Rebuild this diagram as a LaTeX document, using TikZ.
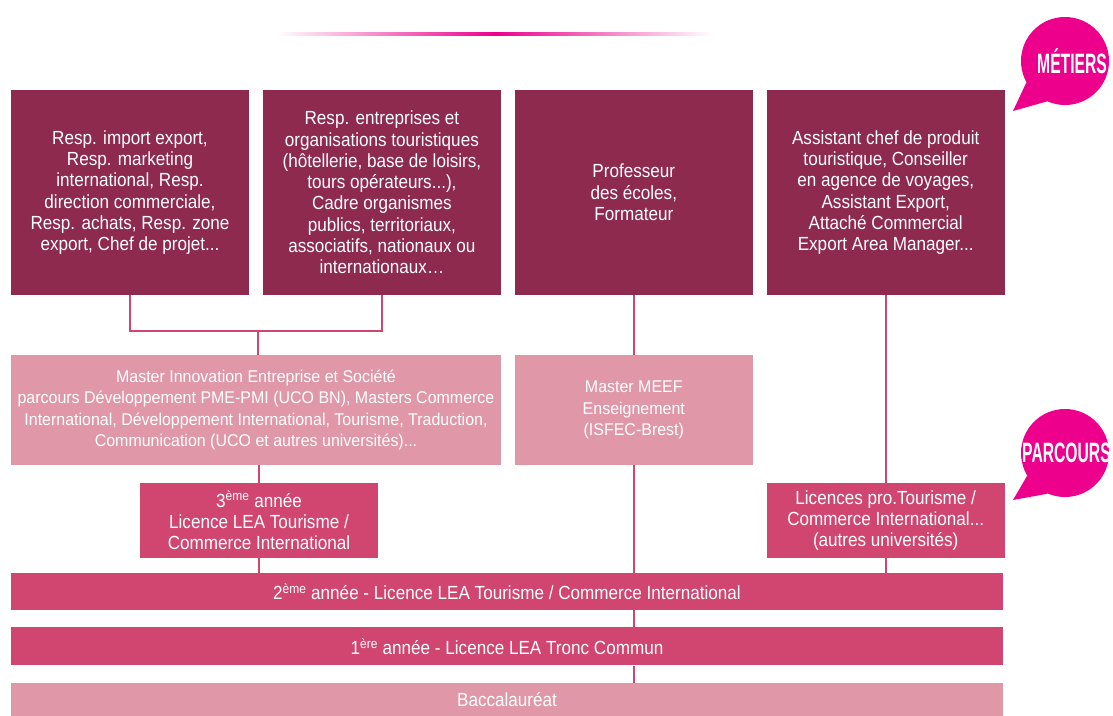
\documentclass[tikz,border=0pt]{standalone}
\usepackage{fontspec}
\setmainfont{Liberation Sans}[FakeStretch=0.9]
\newfontfamily\bubblefont{Liberation Sans}[FakeStretch=0.56]
\newfontfamily\masterfont{Liberation Sans}[FakeStretch=0.94]
\usetikzlibrary{positioning}

\definecolor{metiercol}{HTML}{8E2A4E}
\definecolor{licencecol}{HTML}{D04670}
\definecolor{mastercol}{HTML}{E098A8}
\definecolor{bubblecol}{HTML}{EC008C}

\tikzset{
  box/.style={rectangle, inner sep=0pt, text=white, align=center, font=\fontsize{19}{21.3}\selectfont},
  metier/.style={box, fill=metiercol, minimum width=238, minimum height=205},
  master/.style={box, fill=mastercol, minimum height=110, font=\masterfont\fontsize{17}{21.3}\selectfont},
  licence/.style={box, fill=licencecol, minimum width=238, minimum height=75},
  bar/.style={box, minimum width=992},
  link/.style={draw=licencecol, line width=2pt},
  bubble/.style={circle, fill=bubblecol, minimum size=88, inner sep=0pt},
  bubbletext/.style={anchor=west, inner sep=0pt, text=white, font=\bubblefont\bfseries\fontsize{28}{28}\selectfont},
}

\begin{document}
\begin{tikzpicture}[x=1pt, y=-1pt]
    \useasboundingbox (0,0) rectangle (1113,715);
    % title rule
    \shade[left color=white, right color=bubblecol] (277,32.5) rectangle (495,35.5);
    \shade[left color=bubblecol, right color=white] (495,32.5) rectangle (713,35.5);

    % metiers
    \node[metier] (r1) at (130,192.5) {Resp. import export,\\Resp. marketing\\international, Resp.\\direction commerciale,\\Resp. achats, Resp. zone\\export, Chef de projet...};
    \node[metier, right=13.5pt of r1] (r2) {Resp. entreprises et\\organisations touristiques\\(hôtellerie, base de loisirs,\\tours opérateurs...),\\Cadre organismes\\publics, territoriaux,\\associatifs, nationaux ou\\internationaux\dots};
    \node[metier, right=13.5pt of r2] (r3) {Professeur\\des écoles,\\Formateur};
    \node[metier, right=13.5pt of r3] (r4) {Assistant chef de produit\\touristique, Conseiller\\en agence de voyages,\\Assistant Export,\\Attaché Commercial\\Export Area Manager...};

    % parcours
    \node[master, minimum width=490] (m1) at (256,410) {Master Innovation Entreprise et Société\\parcours Développement PME-PMI (UCO BN), Masters Commerce\\International, Développement International, Tourisme, Traduction,\\Communication (UCO et autres universités)...};
    \node[master, minimum width=238] (m2) at (r3 |- m1) {Master MEEF\\Enseignement\\(ISFEC-Brest)};
    \node[licence] (y3) at (259,520.5) {3\textsuperscript{ème} année\\Licence LEA Tourisme /\\Commerce International};
    \node[licence] (lp) at (r4 |- y3) {Licences pro.Tourisme /\\Commerce International...\\(autres universités)};
    \node[bar, fill=licencecol, minimum height=37] (b2) at (507,591.5) {2\textsuperscript{ème} année - Licence LEA Tourisme / Commerce International};
    \node[bar, fill=licencecol, minimum height=38, below=17pt of b2] (b1) {1\textsuperscript{ère} année - Licence LEA Tronc Commun};
    \node[bar, fill=mastercol, minimum height=33, below=17pt of b1] (bac) {Baccalauréat};

    % links
    \coordinate (jn) at (258,331);
    \draw[link] (r1.south) |- (jn) -| (r2.south);
    \draw[link] (jn) -- (jn |- m1.north);
    \draw[link] (y3.north |- m1.south) -- (y3.north);
    \draw[link] (y3.south) -- (y3.south |- b2.north);
    \draw[link] (r3.south) -- (m2.north);
    \draw[link] (m2.south) -- (m2.south |- b2.north);
    \draw[link] (r4.south) -- (lp.north);
    \draw[link] (lp.south) -- (lp.south |- b2.north);
    \draw[link] (b2.south -| m2.south) -- (b1.north -| m2.south);
    \draw[link] (b1.south -| m2.south) -- (bac.north -| m2.south);

    % bubbles
    \node[bubble] (bm) at (1065,61) {};
    \coordinate (bmtip) at (1013,111);
    \fill[bubblecol] (bm.209) -- (bmtip) -- (bm.246) -- cycle;
    \node[bubbletext] (tm) at (1037,61) {MÉTIERS};
    \node[bubble] (bp) at (1065,453) {};
    \coordinate (bptip) at (1013,500);
    \fill[bubblecol] (bp.211) -- (bptip) -- (bp.247) -- cycle;
    \node[bubbletext] (tp) at (1022,453) {PARCOURS};
\end{tikzpicture}
\end{document}
